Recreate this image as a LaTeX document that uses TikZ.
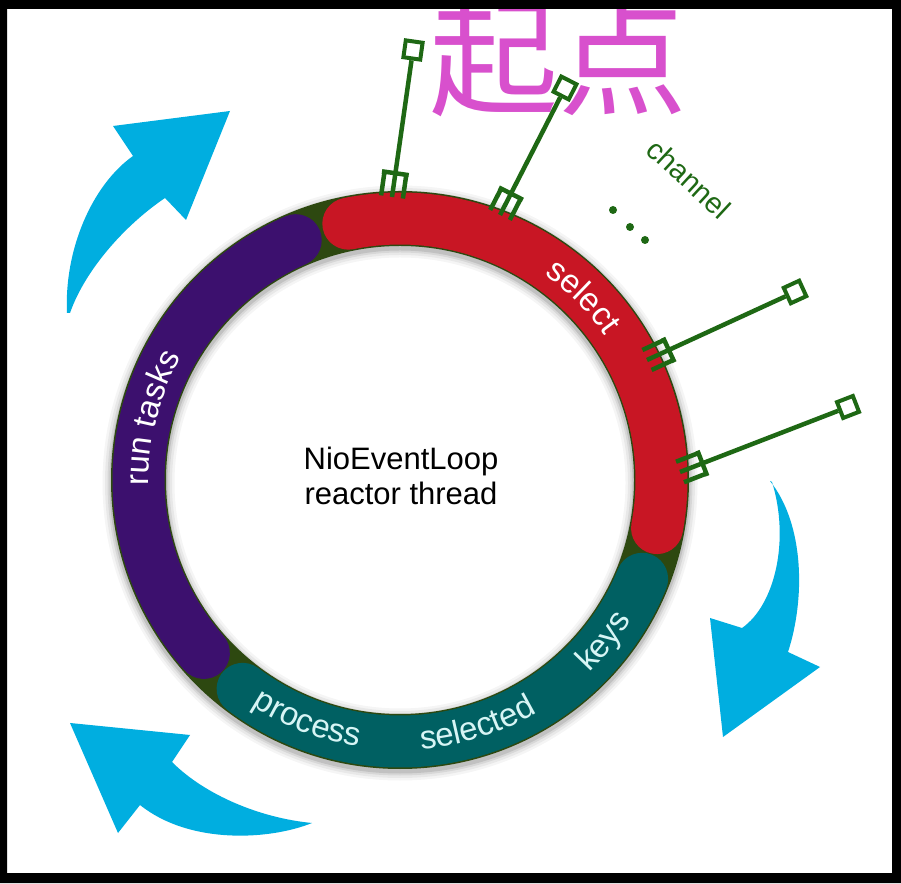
\documentclass[tikz,border=0pt]{standalone}
\usepackage{fontspec}
\newfontfamily\hv{Liberation Sans}
\newfontfamily\cjk{Noto Sans CJK SC}
\usetikzlibrary{decorations.text}
\definecolor{ringred}{RGB}{200,22,36}
\definecolor{ringpurple}{RGB}{60,16,110}
\definecolor{ringteal}{RGB}{0,96,98}
\definecolor{ringbase}{RGB}{45,72,16}
\definecolor{changreen}{RGB}{30,104,20}
\definecolor{arrowblue}{RGB}{0,174,224}
\definecolor{pinkc}{RGB}{216,80,205}
\definecolor{tealtext}{RGB}{215,245,245}
\newcommand\ringfont{\hv\fontsize{33}{35}\selectfont}
\tikzset{
  chanfork/.pic={\draw[changreen, line width=4.5pt] (0,-11) -- (24,-11) (0,11) -- (24,11) (24,-13.5) -- (24,13.5);}
}
\begin{document}
\begin{tikzpicture}[x=1pt,y=1pt,
  seg/.style={line width=52pt, line cap=round},
  chan/.style={draw=changreen, line width=4.5pt},
  chansq/.style={draw=changreen, line width=4pt, rectangle, minimum size=17pt, inner sep=0pt},
  chandot/.style={circle, fill=changreen, minimum size=8pt, inner sep=0pt},
  arrowfill/.style={fill=arrowblue},
  ringtext/.style={decorate, decoration={text along path, text align=center, text color=#1}},
]
\useasboundingbox (0,0) rectangle (901,883);
\fill[white] (0,0) rectangle (901,883);
\coordinate (O) at (400,403);

% shadow of the ring
\foreach \w/\o in {72/0.04, 67/0.05, 62/0.07, 58/0.10} {
  \draw[black, opacity=\o, line width=\w pt] (400,400) circle[radius=261.5];
}
% base ring
\draw[ringbase, line width=55pt] (O) circle[radius=261.5];
% segments
\draw[seg, ringred] ([shift={(101.4:261.5)}]O) arc[start angle=101.4, end angle=-10.6, radius=261.5];
\draw[seg, ringpurple] ([shift={(113.5:261.5)}]O) arc[start angle=113.5, end angle=221.4, radius=261.5];
\draw[seg, ringteal] ([shift={(233:261.5)}]O) arc[start angle=233, end angle=337.8, radius=261.5];

% ring texts
\path[ringtext=white, decoration={text={|\ringfont|select}}] ([shift={(75:251)}]O) arc[start angle=75, end angle=15, radius=251];
\path[ringtext=white, decoration={text={|\ringfont|run tasks}}] ([shift={(200:251)}]O) arc[start angle=200, end angle=132, radius=251];
\path[ringtext=tealtext, decoration={text={|\ringfont|process}}] ([shift={(219:270)}]O) arc[start angle=219, end angle=279, radius=270];
\path[ringtext=tealtext, decoration={text={|\ringfont|selected}}] ([shift={(257.5:270)}]O) arc[start angle=257.5, end angle=317.5, radius=270];
\path[ringtext=tealtext, decoration={text={|\ringfont|keys}}] ([shift={(301.6:270)}]O) arc[start angle=301.6, end angle=341.6, radius=270];

% center text
\node[font=\hv\fontsize{31}{35}\selectfont, anchor=base, inner sep=0pt] (nel) at (401,413) {NioEventLoop};
\node[font=\hv\fontsize{31}{35}\selectfont, anchor=base, inner sep=0pt] (rth) at (401,378) {reactor thread};

% title
\node[font=\cjk\fontsize{129}{129}\selectfont, text=pinkc, anchor=base west, inner sep=0pt] (qd) at (429,777) {起点};

% channels
\coordinate (f1) at (392,686);
\coordinate (f2) at (500,668);
\coordinate (f3) at (647,523);
\coordinate (f4) at (680,411);
\node[chansq, rotate=81.9] (s1) at (413,833) {};
\node[chansq, rotate=62.9] (s2) at (565,795) {};
\node[chansq, rotate=24.7] (s3) at (795,591) {};
\node[chansq, rotate=21.2] (s4) at (848,476) {};
\draw[chan] (f1) -- (s1);
\draw[chan] (f2) -- (s2);
\draw[chan] (f3) -- (s3);
\draw[chan] (f4) -- (s4);
\pic[rotate=81.9] at (f1) {chanfork};
\pic[rotate=62.9] at (f2) {chanfork};
\pic[rotate=24.7] at (f3) {chanfork};
\pic[rotate=21.2] at (f4) {chanfork};

\node[font=\hv\fontsize{29}{29}\selectfont, text=changreen, rotate=-42.8] (chl) at (689,704) {channel};
\node[chandot] (d1) at (613,673) {};
\node[chandot] (d2) at (630,656) {};
\node[chandot] (d3) at (645,643) {};

% blue arrows
\fill[arrowfill] (67,570) .. controls (64,633) and (92,698) .. (133,727) -- (113,757) -- (230,772) -- (186,663) -- (165,685) .. controls (125,658) and (85,613) .. (70,570) -- cycle;
\fill[arrowfill] (770,402) .. controls (805,358) and (805,283) .. (788,231) -- (820,216) -- (723,146) -- (710,265) -- (742,255) .. controls (775,278) and (790,343) .. (772,401) -- cycle;
\fill[arrowfill] (70,160) -- (190,148) -- (172,121) .. controls (205,88) and (260,65) .. (312,60) .. controls (270,43) and (190,38) .. (140,78) -- (118,50) -- cycle;

% frame
\fill[black, even odd rule] (0,0) rectangle (901,883) (7,10) rectangle (892,874);
\end{tikzpicture}
\end{document}
